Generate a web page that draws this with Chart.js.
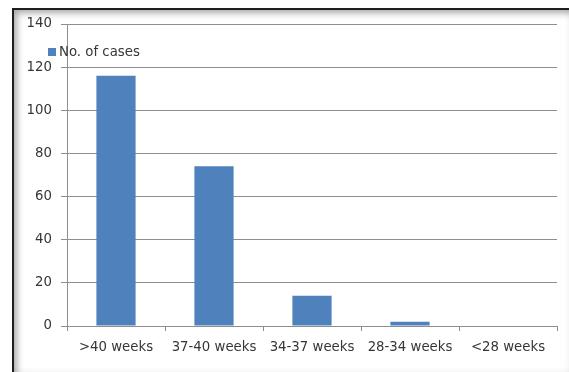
<!DOCTYPE html>
<html>
<head>
<meta charset="utf-8">
<title>Gestational age</title>
<script src="https://cdn.jsdelivr.net/npm/chart.js@4/dist/chart.umd.min.js"></script>
<style>
  html, body { margin: 0; padding: 0; background: #fff; overflow: hidden; }
  /* moldura com sombra interna */
  #moldura {
    position: absolute; left: 12px; top: 8px;
    width: 562px; height: 370px;
    border-left: 2px solid #1e1e1e; border-top: 2px solid #1e1e1e;
    background: #fff;
    box-shadow: inset 6px 6px 7px -3px rgba(0,0,0,0.35),
                inset -8px -9px 8px -4px rgba(0,0,0,0.16);
  }
  #grafico { position: absolute; left: 0; top: 0; z-index: 1; }
</style>
</head>
<body>
<div id="moldura"></div>
<canvas id="grafico" width="569" height="372"></canvas>
<script>
// Dados
const categorias = ['>40 weeks', '37-40 weeks', '34-37 weeks', '28-34 weeks', '<28 weeks'];
const casos = [116, 74, 14, 2, 0];
const nomeSerie = 'No. of cases';

const corBarra = '#4f81bd';
const corTexto = '#363636';
const corGrade = '#8e8e8e';
const fonte = { family: '"DejaVu Sans", sans-serif', size: 13.3 };

// Legenda desenhada dentro da área do gráfico, no canto superior esquerdo
const legendaInterna = {
    id: 'legendaInterna',
    afterDraw(chart) {
        const ctx = chart.ctx;
        const ds = chart.data.datasets[0];
        ctx.save();
        ctx.fillStyle = ds.backgroundColor;
        ctx.fillRect(48, 48, 8, 8);
        ctx.fillStyle = corTexto;
        ctx.font = fonte.size + 'px ' + fonte.family;
        ctx.textBaseline = 'middle';
        ctx.fillText(ds.label, 59, 52.5);
        ctx.restore();
    }
};

const ctx = document.getElementById('grafico').getContext('2d');
new Chart(ctx, {
    type: 'bar',
    data: {
        labels: categorias,
        datasets: [{
            label: nomeSerie,
            data: casos,
            backgroundColor: corBarra,
            barPercentage: 0.4,
            categoryPercentage: 1
        }]
    },
    options: {
        responsive: false,
        animation: false,
        layout: { padding: { top: 24, right: 12, left: 0, bottom: 0 } },
        plugins: { legend: { display: false }, tooltip: { enabled: false } },
        scales: {
            x: {
                offset: true,
                grid: { offset: true, drawOnChartArea: false, drawTicks: true, tickLength: 5, color: corGrade },
                border: { color: corGrade, width: 1 },
                ticks: { color: corTexto, font: fonte, padding: 9, maxRotation: 0 },
                afterFit(s) { s.height = 46; }
            },
            y: {
                min: 0, max: 140,
                grid: { color: corGrade, tickLength: 6, drawTicks: true },
                border: { color: corGrade, width: 1 },
                ticks: { stepSize: 20, color: corTexto, font: fonte, padding: 9 },
                afterFit(s) { s.width = 67; }
            }
        }
    },
    plugins: [legendaInterna]
});
</script>
</body>
</html>
